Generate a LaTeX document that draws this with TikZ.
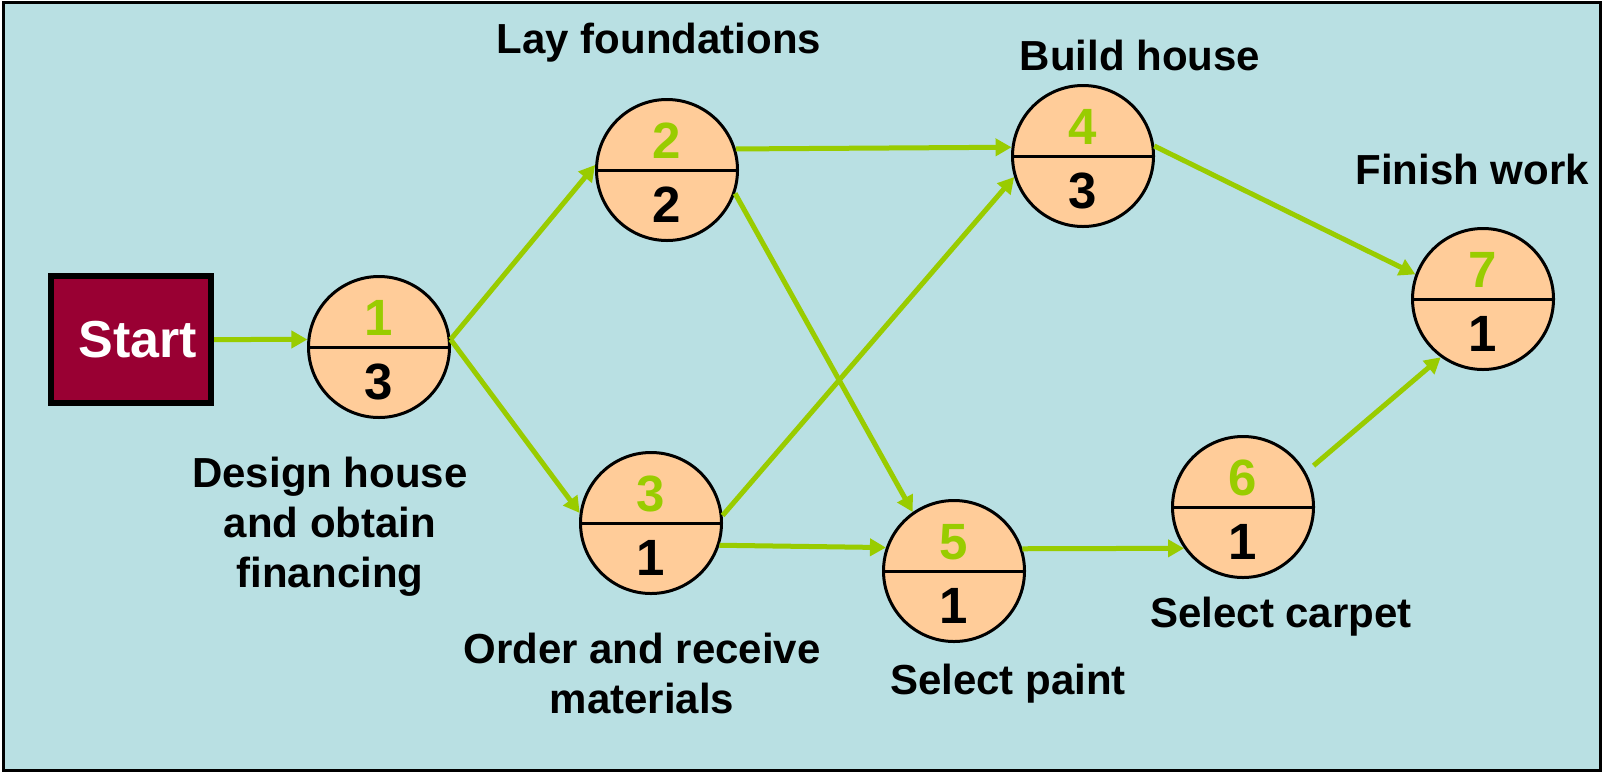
\documentclass[tikz,border=0pt]{standalone}
\usepackage{fontspec}
\setmainfont{Liberation Sans}
\usetikzlibrary{arrows.meta}

\definecolor{NetBack}{HTML}{B9E0E3}
\definecolor{NetGreen}{HTML}{99CC00}
\definecolor{NetOrange}{HTML}{FFCC99}
\definecolor{NetRed}{HTML}{990033}

\tikzstyle{event}=[circle, draw=black, line width=3pt, fill={NetOrange}, minimum size=141pt, inner sep=0pt]
\tikzstyle{divider}=[draw=black, line width=3pt]
\tikzstyle{event-digit}=[font=\fontsize{51}{51}\selectfont\bfseries, anchor=base, inner sep=0pt]
\tikzstyle{task-label}=[font=\fontsize{42}{50}\selectfont\bfseries, inner sep=0pt, align=center]
\tikzstyle{link}=[draw={NetGreen}, line width=5pt, -{Triangle[length=16pt, width=17pt]}]

\begin{document}
\begin{tikzpicture}[x=1pt, y=-1pt]
      \useasboundingbox (0,0) rectangle (1602,772);
      \draw [fill={NetBack}, line width=3pt] (3.5,2.5) rectangle (1600.5,770.5);

      % start box
      \node (start) at (131,339.5) [rectangle, draw=black, line width=6pt, fill={NetRed}, minimum width=160pt, minimum height=127pt, text=white, font=\fontsize{52}{52}\selectfont\bfseries] {\hspace*{14pt}Start};

      % events: number / x / y / duration
      \foreach \n/\x/\y/\d in {1/379/347/3, 2/667/170/2, 3/651/523/1, 4/1083/156/3, 5/954/571/1, 6/1243/507/1, 7/1483/299/1} {
        \node (event-\n) at (\x,\y) [event] {};
        \draw [divider] (event-\n.west) -- (event-\n.east);
        \node (event-\n-top) at ([yshift=12pt]event-\n.center) [event-digit, text={NetGreen}] {\n};
        \node (event-\n-dur) at ([yshift=-52pt]event-\n.center) [event-digit] {\d};
      }

      % task labels
      \node (label-design) at (330,457) [task-label, anchor=north] {Design house\\and obtain\\financing};
      \node (label-found)  at (659,53)  [task-label, anchor=base] {Lay foundations};
      \node (label-order)  at (642,633) [task-label, anchor=north] {Order and receive\\materials};
      \node (label-build)  at (1140,70) [task-label, anchor=base] {Build house};
      \node (label-paint)  at (1008,694) [task-label, anchor=base] {Select paint};
      \node (label-carpet) at (1281,627) [task-label, anchor=base] {Select carpet};
      \node (label-finish) at (1472,184) [task-label, anchor=base] {Finish work};

      % links
      \draw [link] (start.east) -- (event-1.174);
      \draw [link] (event-1.6) -- (event-2.176);
      \draw [link] (event-1.6) -- (event-3.172);
      \draw [link] (event-2.17) -- (event-4.173);
      \draw [link] (event-2.-19) -- (event-5.125);
      \draw [link] (event-3.6) -- (event-4.197);
      \draw [link] (event-3.-18) -- (event-5.161);
      \draw [link] (event-4.8) -- (event-7.160);
      \draw [link] (event-5.18) -- (event-6.215);
      \draw [link, shorten <=10pt] (event-6.29) -- (event-7.234);
    \end{tikzpicture}
\end{document}
